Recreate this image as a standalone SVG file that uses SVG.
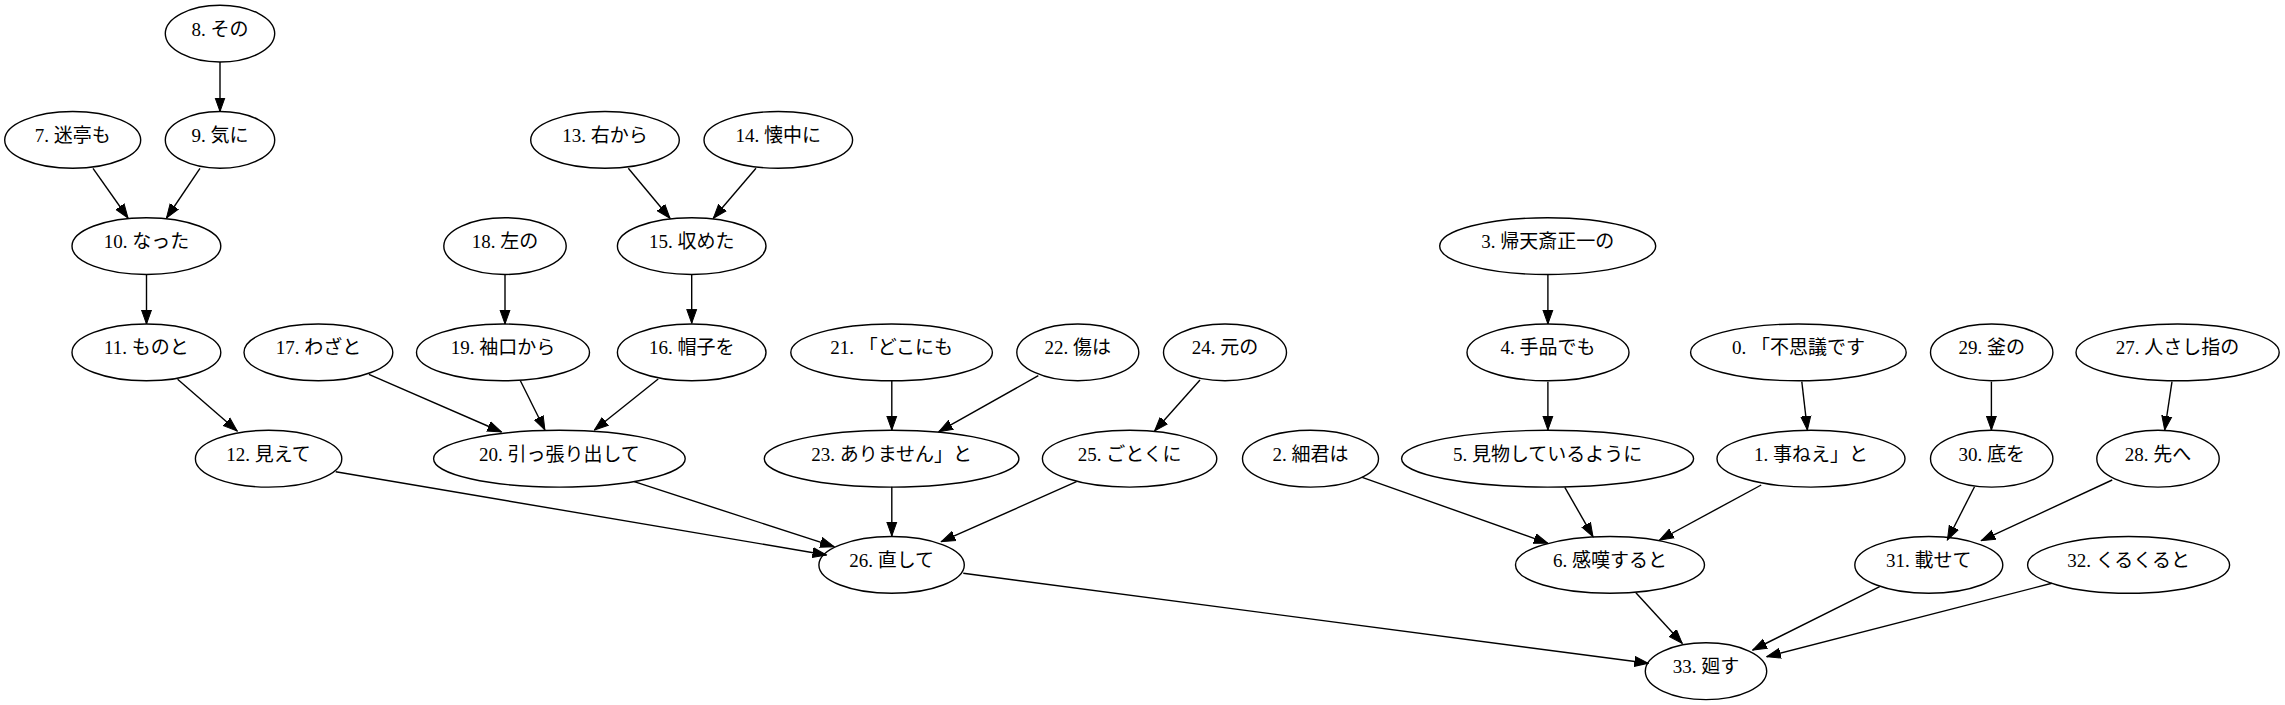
<svg xmlns="http://www.w3.org/2000/svg" width="2285" height="705" viewBox="0 0 2285 705">
<style>
.node ellipse{fill:none;stroke:#000;stroke-width:1.4}
.node text{font-family:"Liberation Serif","Noto Sans CJK JP",serif;font-size:19px;text-anchor:middle;fill:#000}
.edges path{fill:none;stroke:#000;stroke-width:1.4}
</style>
<defs>
<marker id="arr" viewBox="0 -6 15 12" markerWidth="15" markerHeight="12" refX="14" refY="0" orient="auto" markerUnits="userSpaceOnUse">
<path d="M0,-5 L14,0 L0,5 z" fill="#000" stroke="#000" stroke-width="1"/>
</marker>
</defs>
<rect width="2285" height="705" fill="#fff"/>
<g class="edges">
<path marker-end="url(#arr)" d="M220,62 L220,111.5"/>
<path marker-end="url(#arr)" d="M93,168.3 L128,218"/>
<path marker-end="url(#arr)" d="M200,168.3 L166.5,218"/>
<path marker-end="url(#arr)" d="M146.5,275 L146.5,324"/>
<path marker-end="url(#arr)" d="M505,275 L505,324"/>
<path marker-end="url(#arr)" d="M177.6,379.3 L237.2,431"/>
<path marker-end="url(#arr)" d="M368.9,374.3 L501.5,432"/>
<path marker-end="url(#arr)" d="M520.4,380.7 L544.9,430"/>
<path marker-end="url(#arr)" d="M658.2,379 L594.4,430"/>
<path marker-end="url(#arr)" d="M335.7,471.7 L826.5,555"/>
<path marker-end="url(#arr)" d="M634.2,481.7 L834.2,546.7"/>
<path marker-end="url(#arr)" d="M628.3,168.3 L670,218.3"/>
<path marker-end="url(#arr)" d="M756,168.3 L713.3,218.3"/>
<path marker-end="url(#arr)" d="M691.7,275 L691.7,323.3"/>
<path marker-end="url(#arr)" d="M891.8,381 L891.8,430"/>
<path marker-end="url(#arr)" d="M1038.3,375.7 L938.8,431.7"/>
<path marker-end="url(#arr)" d="M1200,380 L1154.6,431"/>
<path marker-end="url(#arr)" d="M891.8,486.7 L891.8,536"/>
<path marker-end="url(#arr)" d="M1076.5,481.7 L941.3,541.7"/>
<path marker-end="url(#arr)" d="M1362.2,477.3 L1547.9,543.3"/>
<path marker-end="url(#arr)" d="M963.3,573.3 L1648.3,663.3"/>
<path marker-end="url(#arr)" d="M1547.9,275 L1547.9,324"/>
<path marker-end="url(#arr)" d="M1547.9,381.7 L1547.9,430"/>
<path marker-end="url(#arr)" d="M1801.8,381.7 L1807.4,430"/>
<path marker-end="url(#arr)" d="M1991.4,381.7 L1991.4,430"/>
<path marker-end="url(#arr)" d="M2172,381.7 L2164.7,430"/>
<path marker-end="url(#arr)" d="M1564.8,487.3 L1593,536.7"/>
<path marker-end="url(#arr)" d="M1761.2,485 L1659.6,540"/>
<path marker-end="url(#arr)" d="M1974.5,486.7 L1947.4,540"/>
<path marker-end="url(#arr)" d="M2112.2,480 L1981.3,540.7"/>
<path marker-end="url(#arr)" d="M1635.9,592.7 L1682.2,643.3"/>
<path marker-end="url(#arr)" d="M1879.7,586.7 L1752.7,650"/>
<path marker-end="url(#arr)" d="M2051.8,583.3 L1766.8,656.7"/>
</g>
<g id="n8" class="node"><ellipse cx="220" cy="33.6" rx="54.7" ry="28.4"/><text x="220" y="35.6">8. その</text></g>
<g id="n7" class="node"><ellipse cx="72.7" cy="139.9" rx="68" ry="28.4"/><text x="72.7" y="141.9">7. 迷亭も</text></g>
<g id="n9" class="node"><ellipse cx="220" cy="139.9" rx="54.7" ry="28.4"/><text x="220" y="141.9">9. 気に</text></g>
<g id="n13" class="node"><ellipse cx="605" cy="139.9" rx="74.3" ry="28.4"/><text x="605" y="141.9">13. 右から</text></g>
<g id="n14" class="node"><ellipse cx="778.3" cy="139.9" rx="74.3" ry="28.4"/><text x="778.3" y="141.9">14. 懐中に</text></g>
<g id="n10" class="node"><ellipse cx="146.4" cy="246.1" rx="74.4" ry="28.4"/><text x="146.4" y="248.1">10. なった</text></g>
<g id="n18" class="node"><ellipse cx="505" cy="246.1" rx="61.2" ry="28.4"/><text x="505" y="248.1">18. 左の</text></g>
<g id="n15" class="node"><ellipse cx="691.7" cy="246.1" rx="74.3" ry="28.4"/><text x="691.7" y="248.1">15. 収めた</text></g>
<g id="n3" class="node"><ellipse cx="1547.7" cy="246.1" rx="108" ry="28.4"/><text x="1547.7" y="248.1">3. 帰天斎正一の</text></g>
<g id="n11" class="node"><ellipse cx="146.4" cy="352.4" rx="74.4" ry="28.4"/><text x="146.4" y="354.4">11. ものと</text></g>
<g id="n17" class="node"><ellipse cx="318.4" cy="352.4" rx="74.4" ry="28.4"/><text x="318.4" y="354.4">17. わざと</text></g>
<g id="n19" class="node"><ellipse cx="503" cy="352.4" rx="86.5" ry="28.4"/><text x="503" y="354.4">19. 袖口から</text></g>
<g id="n16" class="node"><ellipse cx="691.7" cy="352.4" rx="74.3" ry="28.4"/><text x="691.7" y="354.4">16. 帽子を</text></g>
<g id="n21" class="node"><ellipse cx="891.6" cy="352.4" rx="100.8" ry="28.4"/><text x="891.6" y="354.4">21. 「どこにも</text></g>
<g id="n22" class="node"><ellipse cx="1077.8" cy="352.4" rx="61" ry="28.4"/><text x="1077.8" y="354.4">22. 傷は</text></g>
<g id="n24" class="node"><ellipse cx="1225" cy="352.4" rx="61.5" ry="28.4"/><text x="1225" y="354.4">24. 元の</text></g>
<g id="n4" class="node"><ellipse cx="1548" cy="352.4" rx="81" ry="28.4"/><text x="1548" y="354.4">4. 手品でも</text></g>
<g id="n0" class="node"><ellipse cx="1798.4" cy="352.4" rx="107.8" ry="28.4"/><text x="1798.4" y="354.4">0. 「不思議です</text></g>
<g id="n29" class="node"><ellipse cx="1991.7" cy="352.4" rx="61.2" ry="28.4"/><text x="1991.7" y="354.4">29. 釜の</text></g>
<g id="n27" class="node"><ellipse cx="2177.6" cy="352.4" rx="101.6" ry="28.4"/><text x="2177.6" y="354.4">27. 人さし指の</text></g>
<g id="n12" class="node"><ellipse cx="268.6" cy="458.7" rx="73.2" ry="28.4"/><text x="268.6" y="460.7">12. 見えて</text></g>
<g id="n20" class="node"><ellipse cx="559.4" cy="458.7" rx="125.8" ry="28.4"/><text x="559.4" y="460.7">20. 引っ張り出して</text></g>
<g id="n23" class="node"><ellipse cx="891.6" cy="458.7" rx="127.3" ry="28.4"/><text x="891.6" y="460.7">23. ありません」と</text></g>
<g id="n25" class="node"><ellipse cx="1129.6" cy="458.7" rx="87.2" ry="28.4"/><text x="1129.6" y="460.7">25. ごとくに</text></g>
<g id="n2" class="node"><ellipse cx="1310.5" cy="458.7" rx="68" ry="28.4"/><text x="1310.5" y="460.7">2. 細君は</text></g>
<g id="n5" class="node"><ellipse cx="1547.6" cy="458.7" rx="146" ry="28.4"/><text x="1547.6" y="460.7">5. 見物しているように</text></g>
<g id="n1" class="node"><ellipse cx="1811" cy="458.7" rx="94" ry="28.4"/><text x="1811" y="460.7">1. 事ねえ」と</text></g>
<g id="n30" class="node"><ellipse cx="1991.7" cy="458.7" rx="61.2" ry="28.4"/><text x="1991.7" y="460.7">30. 底を</text></g>
<g id="n28" class="node"><ellipse cx="2158" cy="458.7" rx="61.2" ry="28.4"/><text x="2158" y="460.7">28. 先へ</text></g>
<g id="n26" class="node"><ellipse cx="891.6" cy="564.9" rx="72.7" ry="28.4"/><text x="891.6" y="566.9">26. 直して</text></g>
<g id="n6" class="node"><ellipse cx="1610" cy="564.9" rx="94.5" ry="28.4"/><text x="1610" y="566.9">6. 感嘆すると</text></g>
<g id="n31" class="node"><ellipse cx="1928.8" cy="564.9" rx="74" ry="28.4"/><text x="1928.8" y="566.9">31. 載せて</text></g>
<g id="n32" class="node"><ellipse cx="2128.6" cy="564.9" rx="101" ry="28.4"/><text x="2128.6" y="566.9">32. くるくると</text></g>
<g id="n33" class="node"><ellipse cx="1706" cy="671.2" rx="60.7" ry="28.4"/><text x="1706" y="673.2">33. 廻す</text></g>
</svg>
